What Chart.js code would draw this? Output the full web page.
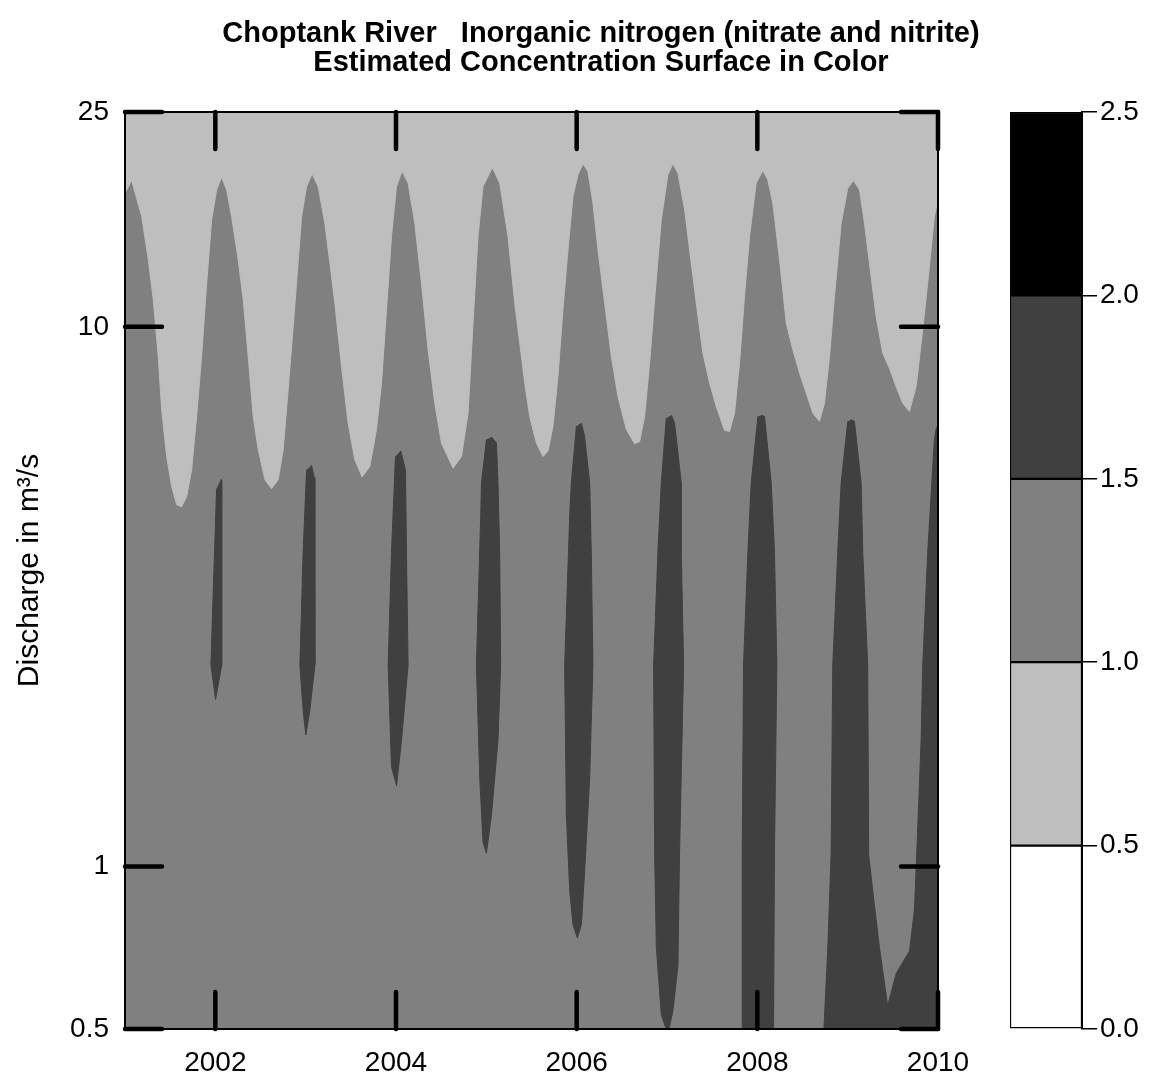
<!DOCTYPE html>
<html><head><meta charset="utf-8">
<script src="https://cdn.jsdelivr.net/npm/chart.js@4.4.1/dist/chart.umd.min.js"></script>
<style>
html,body{margin:0;padding:0;background:#fff;overflow:hidden;width:1152px;height:1084px;}
#main{position:absolute;left:0;top:0;}
#bar{position:absolute;left:990px;top:0;}
</style></head><body>
<canvas id="main" width="1202" height="1084"></canvas>
<canvas id="bar" width="162" height="1084"></canvas>
<script>
// ---- texts & ticks ----
const titleLines = ['Choptank River   Inorganic nitrogen (nitrate and nitrite)', 'Estimated Concentration Surface in Color'];
const yAxisTitle = 'Discharge in m\u00B3/s';
const xTickValues = [2002, 2004, 2006, 2008, 2010];
const xTickLabels = ['2002', '2004', '2006', '2008', '2010'];
const yTickValues = [0.5, 1, 10, 25];
const yTickLabels = ['0.5', '1', '10', '25'];
const levelBreaks = [0, 0.5, 1, 1.5, 2, 2.5];
const levelLabels = ['0.0', '0.5', '1.0', '1.5', '2.0', '2.5'];
const levelColors = ['#FFFFFF', '#BEBEBE', '#808080', '#404040', '#000000'];

// ---- contour 1.0 (upper): light region lies above this curve ----
const lightYears = [2001.000,2001.074,2001.185,2001.258,2001.313,2001.368,2001.406,2001.461,2001.517,2001.572,2001.627,2001.683,2001.738,2001.793,2001.848,2001.904,2001.959,
2002.014,2002.070,2002.125,2002.180,2002.253,2002.309,2002.364,2002.419,2002.475,2002.549,2002.623,2002.696,2002.751,2002.806,2002.862,2002.899,2002.955,
2003.010,2003.072,2003.138,2003.212,2003.268,2003.323,2003.397,2003.470,2003.544,2003.625,2003.710,2003.784,2003.840,2003.895,2003.950,
2004.006,2004.067,2004.134,2004.208,2004.282,2004.355,2004.429,2004.503,2004.632,2004.725,2004.798,2004.853,2004.908,2004.963,
2005.067,2005.148,2005.240,2005.314,2005.425,2005.480,2005.554,2005.627,2005.682,2005.738,2005.793,2005.848,2005.904,2005.959,
2006.014,2006.070,2006.125,2006.180,2006.236,2006.310,2006.384,2006.457,2006.550,2006.642,2006.697,2006.752,2006.808,2006.863,2006.937,
2007.010,2007.065,2007.121,2007.195,2007.250,2007.324,2007.397,2007.471,2007.545,2007.637,2007.692,2007.748,2007.803,2007.858,2007.914,2007.988,
2008.061,2008.116,2008.171,2008.246,2008.320,2008.393,2008.467,2008.541,2008.614,2008.688,2008.743,2008.799,2008.854,2008.928,
2009.001,2009.064,2009.131,2009.186,2009.241,2009.315,2009.388,2009.462,2009.536,2009.609,2009.684,2009.758,2009.831,2009.905,2009.960,2010.000];
const lightQ = [17.7,18.66,16.01,13.31,11.22,8.81,7.02,5.75,5.06,4.68,4.64,4.85,5.44,6.82,8.81,12.04,15.78,
17.93,18.93,17.93,16.01,13.31,11.22,8.81,6.82,5.92,5.21,5.01,5.21,5.92,7.64,10.01,12.04,16.01,
18.19,19.20,18.19,15.56,13.12,11.06,8.44,6.63,5.67,5.27,5.51,6.45,7.87,10.75,14.70,
18.19,19.43,18.46,15.56,12.04,9.07,7.22,6.09,5.47,5.75,6.92,10.16,14.70,18.19,
19.72,18.46,14.70,11.06,7.87,6.82,6.09,5.75,5.88,6.54,8.09,10.75,13.89,17.43,
19.12,20.04,19.40,16.95,13.89,11.06,8.81,7.43,6.45,6.07,6.13,6.82,8.57,11.22,15.78,
19.12,20.04,19.26,16.47,13.89,11.06,8.94,7.87,7.12,6.43,6.40,6.92,8.57,11.38,14.70,18.46,
19.48,18.72,16.95,13.31,10.16,9.07,8.21,7.54,6.92,6.68,7.22,8.81,11.38,15.56,
18.06,18.66,17.93,15.56,13.12,10.45,8.94,8.38,7.75,7.22,6.97,7.75,9.87,12.93,16.01,17.19];

// ---- contour 1.5 regions: [year, discharge] outlines ----
const blob2002 = [[2002.062,5.22],[2002.070,5.18],[2002.070,3.82],[2002.070,2.36],[2002.003,2.04],[2001.951,2.36],[2001.977,3.25],[2002.014,5.01]];
const blob2003 = [[2003.065,5.54],[2003.094,5.26],[2003.102,3.82],[2003.102,2.36],[2003.046,1.946],[2003.002,1.753],[2002.972,1.946],[2002.936,2.36],[2002.972,3.82],[2003.010,5.43]];
const blob2004 = [[2004.053,5.89],[2004.105,5.43],[2004.116,3.82],[2004.134,2.36],[2004.061,1.712],[2004.006,1.412],[2003.950,1.53],[2003.913,2.36],[2003.950,3.82],[2003.994,5.75]];
const blob2005 = [[2005.056,6.25],[2005.112,6.09],[2005.129,5.14],[2005.148,3.82],[2005.159,2.36],[2005.129,1.712],[2005.056,1.242],[2005.001,1.058],[2004.963,1.11],[2004.927,1.458],[2004.890,2.36],[2004.938,4.48],[2004.946,5.14],[2005.001,6.18]];
const blob2006 = [[2006.052,6.63],[2006.088,6.26],[2006.144,5.14],[2006.162,3.82],[2006.180,2.36],[2006.144,1.458],[2006.088,0.976],[2006.052,0.78],[2006.008,0.737],[2005.959,0.78],[2005.923,0.901],[2005.886,1.242],[2005.867,2.36],[2005.923,4.48],[2005.941,5.14],[2005.997,6.54]];
const blob2007 = [[2007.048,6.86],[2007.084,6.63],[2007.158,5.14],[2007.158,3.82],[2007.184,2.36],[2007.139,1.058],[2007.121,0.654],[2007.065,0.539],[2007.010,0.49],[2006.937,0.531],[2006.882,0.708],[2006.863,1.058],[2006.852,2.36],[2006.899,3.82],[2006.937,5.14],[2006.992,6.78]];
const blob2008 = [[2008.043,6.86],[2008.080,6.82],[2008.154,5.14],[2008.190,3.82],[2008.216,2.36],[2008.190,1.058],[2008.179,0.48],[2007.833,0.48],[2007.833,1.058],[2007.847,2.36],[2007.895,3.82],[2007.932,5.14],[2008.006,6.82]];
const blob2009 = [[2009.039,6.73],[2009.075,6.68],[2009.149,5.14],[2009.167,3.82],[2009.222,2.36],[2009.233,1.051],[2009.278,0.901],[2009.352,0.708],[2009.443,0.552],[2009.536,0.633],[2009.573,0.649],[2009.684,0.697],[2009.739,0.831],[2009.764,1.051],[2009.813,1.712],[2009.831,2.36],[2009.886,3.82],[2009.960,6.18],[2009.978,6.45],[2010.02,6.7],[2010.02,0.48],[2008.732,0.48],[2008.780,0.708],[2008.817,1.058],[2008.835,2.36],[2008.890,3.82],[2008.928,5.14],[2009.001,6.68]];
const darkBlobs = [blob2002, blob2003, blob2004, blob2005, blob2006, blob2007, blob2008, blob2009];

Chart.defaults.font.family = '"Liberation Sans", Arial, Helvetica, sans-serif';
Chart.defaults.color = '#000';

const frameTicks = {
  id: 'frameTicks',
  beforeDraw(chart) {
    const {ctx, chartArea: a} = chart;
    ctx.save(); ctx.fillStyle = '#808080';
    ctx.fillRect(a.left, a.top, a.right - a.left, a.bottom - a.top);
    ctx.restore();
  },
  afterDatasetsDraw(chart) {
    const {ctx, chartArea: a, scales} = chart;
    const seg = (x1, y1, x2, y2) => { ctx.beginPath(); ctx.moveTo(x1, y1); ctx.lineTo(x2, y2); ctx.stroke(); };
    ctx.save();
    ctx.strokeStyle = '#000'; ctx.lineWidth = 2;
    ctx.strokeRect(a.left, a.top, a.right - a.left, a.bottom - a.top);
    ctx.lineWidth = 4.5; ctx.lineCap = 'round';
    const L = 37;
    xTickValues.forEach(v => { const px = scales.x.getPixelForValue(v); seg(px, a.bottom, px, a.bottom - L); seg(px, a.top, px, a.top + L); });
    yTickValues.forEach(v => { const py = scales.y.getPixelForValue(v); seg(a.left, py, a.left + L, py); seg(a.right, py, a.right - L, py); });
    ctx.restore();
  }
};

const blackBorder = {display: true, color: '#000', width: 2};
const datasets = darkBlobs.map(b => ({
  data: b.map(p => ({x: p[0], y: p[1]})),
  fill: 'shape', backgroundColor: '#404040', borderColor: '#404040', borderWidth: 1, pointRadius: 0, tension: 0
}));
datasets.push({
  data: lightYears.map((x, i) => ({x: x, y: lightQ[i]})),
  fill: 'end', backgroundColor: '#BEBEBE', borderColor: '#BEBEBE', borderWidth: 1, pointRadius: 0, tension: 0
});

new Chart(document.getElementById('main'), {
  type: 'line',
  data: {datasets: datasets},
  options: {
    responsive: false, animation: false, events: [],
    layout: {padding: 0},
    plugins: {
      legend: {display: false}, tooltip: {enabled: false},
      title: {display: true, text: titleLines, color: '#000',
        font: {size: 29, weight: 'bold', lineHeight: 29 / 29}, padding: {top: 19, bottom: 0}}
    },
    scales: {
      x: {type: 'linear', position: 'bottom', min: 2001, max: 2010,
        grid: {display: false}, border: blackBorder,
        ticks: {color: '#000', font: {size: 28}, padding: 9, autoSkip: false, maxRotation: 0,
          callback: v => { const i = xTickValues.indexOf(v); return i >= 0 ? xTickLabels[i] : ''; }},
        afterBuildTicks: s => { s.ticks = xTickValues.map(v => ({value: v})); },
        afterFit: s => { s.height = 55; }},
      x2: {type: 'linear', position: 'top', min: 2001, max: 2010,
        grid: {display: false}, border: blackBorder, ticks: {display: false},
        afterFit: s => { s.height = 35; }},
      y: {type: 'logarithmic', position: 'left', min: 0.5, max: 25,
        grid: {display: false}, border: blackBorder,
        ticks: {color: '#000', font: {size: 28}, padding: 8, autoSkip: false,
          callback: v => { const i = yTickValues.indexOf(v); return i >= 0 ? yTickLabels[i] : ''; }},
        afterBuildTicks: s => { s.ticks = yTickValues.map(v => ({value: v})); },
        title: {display: true, text: yAxisTitle, color: '#000', font: {size: 30}, padding: {top: 12, bottom: 0}},
        afterFit: s => { s.width = 125; }},
      y2: {type: 'logarithmic', position: 'right', min: 0.5, max: 25,
        grid: {display: false}, border: blackBorder, ticks: {display: false},
        afterFit: s => { s.width = 264; }}
    }
  },
  plugins: [frameTicks]
});

new Chart(document.getElementById('bar'), {
  type: 'bar',
  data: {
    labels: ['level'],
    datasets: levelColors.map((c, i) => ({
      data: [levelBreaks[i + 1] - levelBreaks[i]],
      backgroundColor: c, borderColor: '#000', borderWidth: 1.5, borderSkipped: false,
      barPercentage: 1, categoryPercentage: 1
    }))
  },
  options: {
    responsive: false, animation: false, events: [],
    layout: {padding: {left: 20, top: 112, bottom: 55, right: 0}},
    plugins: {legend: {display: false}, tooltip: {enabled: false}},
    scales: {
      x: {stacked: true, display: false},
      y: {stacked: true, position: 'right', min: 0, max: 2.5,
        grid: {display: true, drawOnChartArea: false, drawTicks: true, tickLength: 15, color: '#000', lineWidth: 1.5},
        border: blackBorder,
        ticks: {color: '#000', font: {size: 28}, padding: 3,
          callback: v => { const i = levelBreaks.indexOf(v); return i >= 0 ? levelLabels[i] : ''; }},
        afterBuildTicks: s => { s.ticks = levelBreaks.map(v => ({value: v})); },
        afterFit: s => { s.width = 70; }}
    }
  }
});
</script></body></html>
